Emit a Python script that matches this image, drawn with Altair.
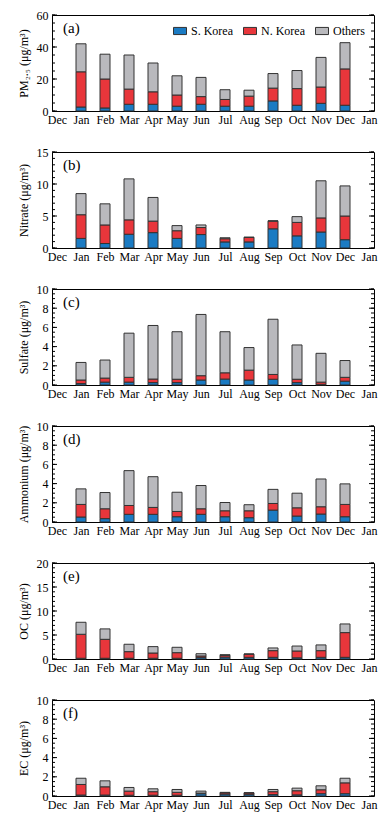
import altair as alt
import pandas as pd
import numpy as np

months = ["Jan", "Feb", "Mar", "Apr", "May", "Jun", "Jul", "Aug", "Sep", "Oct", "Nov", "Dec"]
axis_months = ["Dec", "Jan", "Feb", "Mar", "Apr", "May", "Jun", "Jul", "Aug", "Sep", "Oct", "Nov", "Dec", "Jan"]
sources = ["S. Korea", "N. Korea", "Others"]
colors = ["#1b7bc3", "#e8363b", "#b9b9bd"]

# (a) PM2.5
pm_sk = [2.5, 1.9, 4.2, 4.2, 3.0, 4.2, 3.0, 3.0, 6.3, 3.6, 4.8, 3.6]
pm_nk = [22.0, 18.1, 9.5, 7.8, 7.0, 4.8, 4.2, 6.3, 8.0, 10.4, 10.2, 22.7]
pm_ot = [17.5, 15.5, 21.3, 18.0, 12.0, 12.0, 6.1, 3.7, 9.1, 11.3, 18.5, 16.4]
# (b) Nitrate
no_sk = [1.5, 0.7, 2.15, 2.4, 1.5, 2.1, 0.95, 0.95, 3.0, 1.9, 2.5, 1.3]
no_nk = [3.7, 2.9, 2.25, 1.8, 1.2, 1.1, 0.5, 0.7, 1.2, 2.1, 2.2, 3.7]
no_ot = [3.3, 3.3, 6.4, 3.7, 0.8, 0.4, 0.15, 0.05, 0.05, 0.9, 5.8, 4.7]
# (c) Sulfate
so_sk = [0.15, 0.3, 0.3, 0.25, 0.25, 0.52, 0.62, 0.52, 0.6, 0.25, 0.07, 0.4]
so_nk = [0.37, 0.42, 0.5, 0.37, 0.35, 0.45, 0.65, 1.03, 0.5, 0.35, 0.23, 0.4]
so_ot = [1.83, 1.88, 4.6, 5.58, 4.95, 6.38, 4.28, 2.35, 5.75, 3.57, 3.0, 1.75]
# (d) Ammonium
nh_sk = [0.52, 0.35, 0.8, 0.8, 0.55, 0.8, 0.55, 0.45, 1.24, 0.62, 0.83, 0.55]
nh_nk = [1.31, 1.03, 0.92, 0.72, 0.55, 0.58, 0.62, 0.72, 0.69, 0.86, 0.76, 1.28]
nh_ot = [1.62, 1.69, 3.63, 3.2, 2.0, 2.42, 0.86, 0.63, 1.47, 1.52, 2.89, 2.14]
# (e) OC
oc_sk = [0.15, 0.15, 0.15, 0.15, 0.15, 0.35, 0.4, 0.35, 0.35, 0.25, 0.35, 0.35]
oc_nk = [5.0, 3.95, 1.38, 1.1, 1.17, 0.28, 0.35, 0.65, 1.39, 1.42, 1.39, 5.15]
oc_ot = [2.5, 2.17, 1.54, 1.33, 1.12, 0.47, 0.15, 0.05, 0.56, 1.03, 1.19, 1.8]
# (f) EC
ec_sk = [0.1, 0.1, 0.08, 0.08, 0.08, 0.24, 0.2, 0.18, 0.15, 0.12, 0.24, 0.24]
ec_nk = [1.1, 0.86, 0.43, 0.37, 0.3, 0.06, 0.13, 0.14, 0.3, 0.43, 0.41, 1.13]
ec_ot = [0.65, 0.62, 0.38, 0.3, 0.3, 0.21, 0.05, 0.02, 0.23, 0.27, 0.41, 0.48]

panels = [
    ("(a)", "PM₂.₅ (μg/m³)", (pm_sk, pm_nk, pm_ot), 60, 20, 5),
    ("(b)", "Nitrate (μg/m³)", (no_sk, no_nk, no_ot), 15, 5, 1),
    ("(c)", "Sulfate (μg/m³)", (so_sk, so_nk, so_ot), 10, 2, 0.5),
    ("(d)", "Ammonium (μg/m³)", (nh_sk, nh_nk, nh_ot), 10, 2, 0.5),
    ("(e)", "OC (μg/m³)", (oc_sk, oc_nk, oc_ot), 20, 5, 1),
    ("(f)", "EC (μg/m³)", (ec_sk, ec_nk, ec_ot), 10, 2, 0.5),
]

FONT = "Liberation Serif"
W, H = 322, 96
label_expr = "[" + ",".join("'%s'" % m for m in axis_months) + "][datum.value]"

charts = []
for i, (tag, ytitle, series, ymax, major, minor) in enumerate(panels):
    rows = []
    for s_idx, (src, vals) in enumerate(zip(sources, series)):
        for m_idx, v in enumerate(vals):
            rows.append({"m": m_idx + 1, "month": months[m_idx], "source": src, "ord": s_idx, "value": v})
    df = pd.DataFrame(rows)
    yscale = alt.Scale(domain=[0, ymax], nice=False)
    xscale = alt.Scale(domain=[0, 13], nice=False, zero=False)
    yaxis = alt.Axis(values=[float(v) for v in np.arange(0, ymax + 0.001, major)], title=ytitle,
                     ticks=False, grid=False, domain=False, labelPadding=4,
                     labelFont=FONT, labelFontSize=12, labelColor="black",
                     titleFont=FONT, titleFontSize=12, titleFontWeight="normal",
                     titleColor="black", titlePadding=6)

    legend = None
    if i == 0:
        legend = alt.Legend(
            orient="top-right", direction="horizontal", title=None,
            symbolType="M-1,-0.55H1V0.55H-1Z", symbolSize=169,
            symbolStrokeColor="#333", symbolStrokeWidth=1, symbolOpacity=1,
            labelFont=FONT, labelFontSize=12, labelColor="black",
            columnPadding=8, labelOffset=4, offset=9, padding=0,
        )

    bars = alt.Chart(df).mark_bar(size=10, stroke="#333", strokeWidth=1).encode(
        x=alt.X("m:Q", scale=xscale,
                axis=alt.Axis(values=list(range(14)), labelExpr=label_expr, title=None,
                              ticks=False, grid=False, domain=False, labelFlush=False,
                              labelPadding=3, labelFont=FONT, labelFontSize=12,
                              labelColor="black", labelOverlap=False)),
        y=alt.Y("value:Q", stack="zero", scale=yscale, axis=yaxis),
        color=alt.Color("source:N", scale=alt.Scale(domain=sources, range=colors), legend=legend),
        order=alt.Order("ord:Q", sort="ascending"),
    )

    maj = pd.DataFrame({"value": np.arange(0, ymax + 0.001, major)})
    mnr = pd.DataFrame({"value": np.arange(0, ymax + 0.001, minor)})
    yv = alt.Y("value:Q", scale=yscale, axis=yaxis)
    tl_maj = alt.Chart(maj).mark_rule(color="black", strokeWidth=1).encode(y=yv, x=alt.value(0), x2=alt.value(5))
    tr_maj = alt.Chart(maj).mark_rule(color="black", strokeWidth=1).encode(y=yv, x=alt.value(W - 5), x2=alt.value(W))
    tl_min = alt.Chart(mnr).mark_rule(color="black", strokeWidth=1).encode(y=yv, x=alt.value(0), x2=alt.value(3))
    tr_min = alt.Chart(mnr).mark_rule(color="black", strokeWidth=1).encode(y=yv, x=alt.value(W - 3), x2=alt.value(W))

    lab = alt.Chart(pd.DataFrame({"t": [tag]})).mark_text(
        align="left", baseline="middle", font=FONT, fontSize=15, color="black"
    ).encode(text="t:N", x=alt.value(11), y=alt.value(13))

    layer = alt.layer(bars, tl_maj, tr_maj, tl_min, tr_min, lab).properties(width=W, height=H)
    charts.append(layer)

chart = alt.vconcat(*charts, spacing=19).resolve_scale(
    color="independent", y="independent", x="independent"
).properties(
    padding={"left": 8, "top": 0, "right": 2, "bottom": 2}
).configure_view(stroke="black", strokeWidth=1).configure_axis(grid=False).configure_legend(
    labelFont=FONT
).configure_text(font=FONT)

chart.save("out.html", embed_options={"renderer": "svg", "actions": False})
